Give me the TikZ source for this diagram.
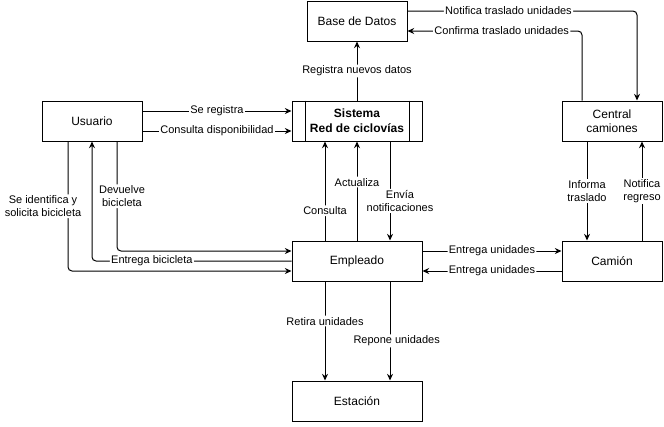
\documentclass[tikz,border=0pt]{standalone}
\usepackage{fontspec}
\setmainfont{Liberation Sans}
\usetikzlibrary{arrows.meta}

\begin{document}
\begin{tikzpicture}[x=0.75pt,y=0.75pt,yscale=-1,xscale=1,
    line width=0.75pt,
    caja/.style={draw, minimum width=75pt, minimum height=30pt, inner sep=1pt, align=center, font=\fontsize{9pt}{10.5pt}\selectfont},
    cajaancha/.style={caja, minimum width=97.5pt},
    etiq/.style={fill=white, inner sep=1pt, align=center, font=\fontsize{8.25pt}{9.75pt}\selectfont},
    flecha/.style={-{Stealth[length=5pt,width=4.5pt]}, rounded corners=3pt}]
    \useasboundingbox (0,0) rectangle (664,426);

    %Shape: Rectangle [id:usuario]
    \node [caja] (usr) at (92,121) {Usuario};
    %Shape: Process [id:sistema]
    \node [cajaancha, font=\fontsize{9pt}{11pt}\selectfont\bfseries] (sis) at (357,121) {Sistema\\Red de ciclovías};
    \draw (sis.north -| 305,0) -- (sis.south -| 305,0);
    \draw (sis.north -| 409,0) -- (sis.south -| 409,0);
    %Shape: Rectangle [id:basedatos]
    \node [caja] (bd) at (357,21) {Base de Datos};
    %Shape: Rectangle [id:central]
    \node [caja] (cc) at (612,121) {Central\\camiones};
    %Shape: Rectangle [id:empleado]
    \node [cajaancha] (emp) at (357,261) {Empleado};
    %Shape: Rectangle [id:camion]
    \node [caja] (cam) at (612,261) {Camión};
    %Shape: Rectangle [id:estacion]
    \node [cajaancha] (est) at (357,401) {Estación};

    %Straight Lines: Usuario - Sistema
    \draw [flecha] (usr.east |- 0,111) -- node [etiq] {Se registra} (sis.west |- 0,111);
    \draw [flecha] (usr.east |- 0,131) -- node [etiq] {Consulta disponibilidad} (sis.west |- 0,131);
    %Straight Lines: Sistema - Base de Datos
    \draw [flecha] (sis.north) -- node [etiq] {Registra nuevos datos} (bd.south);
    %Straight Lines: Base de Datos - Central camiones
    \draw [flecha] (bd.east |- 0,11) -| node [etiq, pos=.22] {Notifica traslado unidades} (cc.north -| 637,0);
    \draw [flecha] (cc.north -| 582,0) |- node [etiq, pos=.73] {Confirma traslado unidades} (bd.east |- 0,31);

    %Straight Lines: Usuario - Empleado
    \draw [flecha] (usr.south -| 68,0) |- node [etiq, pos=.25, xshift=-18.75pt] {Se identifica y\\solicita bicicleta} (emp.west |- 0,271);
    \draw [flecha] (emp.west |- 0,261) -| node [etiq, pos=.35] {Entrega bicicleta} (usr.south -| 92,0);
    \draw [flecha] (usr.south -| 117,0) |- node [etiq, pos=.25, xshift=3.75pt] {Devuelve\\bicicleta} (emp.west |- 0,251);

    %Straight Lines: Empleado - Sistema
    \draw [flecha] (emp.north -| 325,0) -- node [etiq, pos=.3] {Consulta} (sis.south -| 325,0);
    \draw [flecha] (emp.north) -- node [etiq, pos=.59] {Actualiza} (sis.south);
    \draw [flecha] (sis.south -| 390,0) -- node [etiq, pos=.6, xshift=7.5pt] {Envía\\notificaciones} (emp.north -| 390,0);

    %Straight Lines: Empleado - Camión
    \draw [flecha] (emp.east |- 0,251) -- node [etiq] {Entrega unidades} (cam.west |- 0,251);
    \draw [flecha] (cam.west |- 0,271) -- node [etiq] {Entrega unidades} (emp.east |- 0,271);
    %Straight Lines: Central camiones - Camión
    \draw [flecha] (cc.south -| 587,0) -- node [etiq] {Informa\\traslado} (cam.north -| 587,0);
    \draw [flecha] (cam.north -| 642,0) -- node [etiq] {Notifica\\regreso} (cc.south -| 642,0);

    %Straight Lines: Empleado - Estación
    \draw [flecha] (emp.south -| 325,0) -- node [etiq, pos=.4] {Retira unidades} (est.north -| 325,0);
    \draw [flecha] (emp.south -| 390,0) -- node [etiq, pos=.6, xshift=5pt] {Repone unidades} (est.north -| 390,0);
\end{tikzpicture}
\end{document}
